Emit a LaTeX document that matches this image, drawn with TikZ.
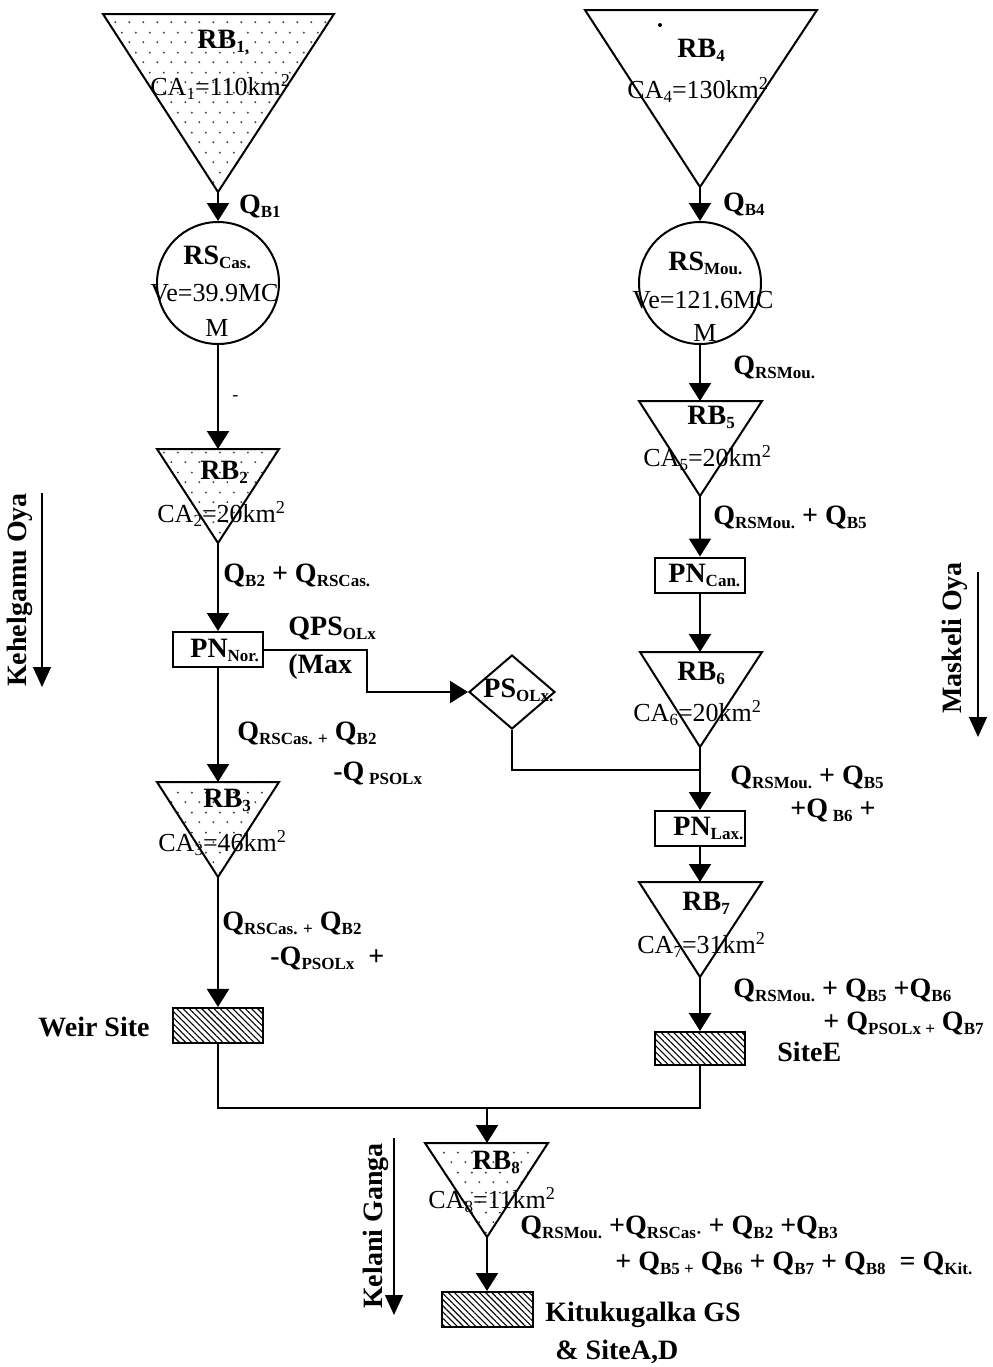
\documentclass[tikz,border=0pt]{standalone}
\usepackage{fontspec}
\setmainfont{Liberation Serif}
\usetikzlibrary{arrows.meta,patterns,patterns.meta,shapes.geometric}
\pgfdeclarepatternformonly{sparse dots}{\pgfpointorigin}{\pgfpoint{7pt}{10pt}}{\pgfpoint{7pt}{10pt}}{%
	\pgfpathcircle{\pgfpoint{1.75pt}{2.5pt}}{0.55pt}%
	\pgfpathcircle{\pgfpoint{5.25pt}{7.5pt}}{0.55pt}%
	\pgfusepath{fill}%
}
\newcommand{\sbx}[1]{\raisebox{-2pt}{\fontsize{8.5}{9}\selectfont #1}}
\newcommand{\spx}[1]{\textsuperscript{#1}}
\tikzset{
	flow/.style={line width=1pt, -{Triangle[length=9pt,width=11pt]}},
	link/.style={line width=1pt},
	basin/.style={line width=1pt, line join=miter},
	dotbasin/.style={basin, pattern=sparse dots, pattern color=black!75},
	site/.style={draw, line width=1pt, minimum width=45pt, minimum height=17.5pt, inner sep=0pt, pattern={Lines[angle=-45,distance=2.2pt,line width=0.55pt]}},
	pn/.style={draw, line width=1pt, minimum width=45pt, minimum height=17.5pt, inner sep=0pt},
	res/.style={draw, circle, line width=1pt, minimum size=61pt, inner sep=0pt},
	ps/.style={draw, diamond, line width=1pt, minimum width=43pt, minimum height=37pt, inner sep=0pt},
	txt/.style={font=\fontsize{13}{15}\selectfont, inner sep=0pt, anchor=west},
	lbl/.style={font=\bfseries\fontsize{14}{16}\selectfont, inner sep=0pt, anchor=west},
	river/.style={line width=0.6pt, -{Triangle[length=10pt,width=9pt]}},
}
\begin{document}
\begin{tikzpicture}[x=0.5pt,y=-0.5pt]
	\pgfmathsetmacro{\xl}{218}
	\pgfmathsetmacro{\xr}{700}
	\useasboundingbox (0,0) rectangle (992,1367);
	% Kehelgamu Oya branch
	\draw[dotbasin] (103,14) -- (334,14) -- (\xl,192) coordinate (rb1tip) -- cycle;
	\coordinate (rb1top) at (\xl,14);
	\node[lbl] (rb1name) at (197,43) {RB\sbx{1,}};
	\node[txt] (rb1area) at (150,87) {CA\sbx{1}=110km\spx{2}};
	\node[res] (cas) at (\xl,283) {};
	\node[lbl] (cas1) at (183,257) {RS\sbx{Cas.}};
	\node[txt] (cas2) at (150,293) {Ve=39.9MC};
	\node[txt, anchor=center] (cas3) at (217,328) {M};
	\draw[flow] (rb1tip) -- (cas.north) node[lbl, midway, xshift=10pt] (qb1) {Q\sbx{B1}};
	\draw[dotbasin] (157,449) -- (279,449) -- (\xl,543) coordinate (rb2tip) -- cycle;
	\coordinate (rb2top) at (\xl,449);
	\node[lbl] (rb2name) at (200,472) {RB\sbx{2}};
	\node[txt] (rb2area) at (157,514) {CA\sbx{2}=20km\spx{2}};
	\draw[flow] (cas.south) -- (rb2top);
	\node[txt, font=\fontsize{9}{9}\selectfont] (cut) at (232,398) {-};
	\node[pn] (nor) at (\xl,649.5) {};
	\node[lbl] (norname) at (190,650) {PN\sbx{Nor.}};
	\draw[flow] (rb2tip) -- (nor.north);
	\node[lbl] (q2) at (223,575) {Q\sbx{B2} + Q\sbx{RSCas.}};
	\node[ps] (olx) at (512,692) {};
	\node[lbl] (olxname) at (483,690) {PS\sbx{OLx.}};
	\draw[flow] (nor.east) -- ++(103,0) |- (olx.west);
	\node[lbl] (qps1) at (288,628) {QPS\sbx{OLx}};
	\node[lbl] (qps2) at (288,667) {(Max};
	\draw[dotbasin] (157,782) -- (279,782) -- (\xl,877) coordinate (rb3tip) -- cycle;
	\coordinate (rb3top) at (\xl,782);
	\node[lbl] (rb3name) at (203,800) {RB\sbx{3}};
	\node[txt] (rb3area) at (158,843) {CA\sbx{3}=46km\spx{2}};
	\draw[flow] (nor.south) -- (rb3top);
	\node[lbl] (q3a) at (237,733) {Q\sbx{RSCas. +} Q\sbx{B2}};
	\node[lbl] (q3b) at (333,773) {-Q\,\sbx{PSOLx}};
	\node[site] (weir) at (\xl,1025) {};
	\node[lbl, anchor=east] (weirname) at (150,1027) {Weir Site};
	\draw[flow] (rb3tip) -- (weir.north);
	\node[lbl] (q4a) at (222,923) {Q\sbx{RSCas. +} Q\sbx{B2}};
	\node[lbl] (q4b) at (270,958) {-Q\sbx{PSOLx}\ \ +};
	\node[lbl, anchor=center, rotate=90] (kehel) at (20,590) {Kehelgamu Oya};
	\coordinate (kehtop) at (42,493);
	\coordinate (kehend) at (42,687);
	\draw[river] (kehtop) -- (kehend);
	% Maskeli Oya branch
	\draw[basin] (585,10) -- (817,10) -- (\xr,187) coordinate (rb4tip) -- cycle;
	\fill (660,25) circle (1pt);
	\node[lbl] (rb4name) at (677,50) {RB\sbx{4}};
	\node[txt] (rb4area) at (627,90) {CA\sbx{4}=130km\spx{2}};
	\node[res] (mou) at (\xr,283) {};
	\node[lbl] (mou1) at (668,263) {RS\sbx{Mou.}};
	\node[txt] (mou2) at (632,300) {Ve=121.6MC};
	\node[txt, anchor=center] (mou3) at (705,333) {M};
	\draw[flow] (rb4tip) -- (mou.north) node[lbl, midway, xshift=11pt] (qb4) {Q\sbx{B4}};
	\draw[basin] (639,401) -- (762,401) -- (\xr,496) coordinate (rb5tip) -- cycle;
	\coordinate (rb5top) at (\xr,401);
	\node[lbl] (rb5name) at (687,417) {RB\sbx{5}};
	\node[txt] (rb5area) at (643,458) {CA\sbx{5}=20km\spx{2}};
	\draw[flow] (mou.south) -- (rb5top);
	\node[lbl] (q5) at (733,367) {Q\sbx{RSMou.}};
	\node[pn] (can) at (\xr,575) {};
	\node[lbl] (canname) at (668,575) {PN\sbx{Can.}};
	\draw[flow] (rb5tip) -- (can.north);
	\node[lbl] (q6) at (713,517) {Q\sbx{RSMou.} + Q\sbx{B5}};
	\draw[basin] (640,652) -- (762,652) -- (\xr,747) coordinate (rb6tip) -- cycle;
	\coordinate (rb6top) at (\xr,652);
	\node[lbl] (rb6name) at (677,673) {RB\sbx{6}};
	\node[txt] (rb6area) at (633,713) {CA\sbx{6}=20km\spx{2}};
	\draw[flow] (can.south) -- (rb6top);
	\node[pn] (lax) at (\xr,828.5) {};
	\node[lbl] (laxname) at (673,828) {PN\sbx{Lax.}};
	\draw[flow] (rb6tip) -- (lax.north);
	\coordinate (olxin) at (\xr,770);
	\draw[link] (olx.south) |- (olxin);
	\node[lbl] (q7a) at (730,777) {Q\sbx{RSMou.} + Q\sbx{B5}};
	\node[lbl] (q7b) at (790,810) {+Q\,\sbx{B6} +};
	\draw[basin] (639,882) -- (762,882) -- (\xr,977) coordinate (rb7tip) -- cycle;
	\coordinate (rb7top) at (\xr,882);
	\node[lbl] (rb7name) at (682,903) {RB\sbx{7}};
	\node[txt] (rb7area) at (637,945) {CA\sbx{7}=31km\spx{2}};
	\draw[flow] (lax.south) -- (rb7top);
	\node[site, minimum height=16.5pt] (sitee) at (\xr,1048.5) {};
	\node[lbl] (siteename) at (777,1052) {SiteE};
	\draw[flow] (rb7tip) -- (sitee.north);
	\node[lbl] (q8a) at (733,990) {Q\sbx{RSMou.} + Q\sbx{B5} +Q\sbx{B6}};
	\node[lbl] (q8b) at (823,1023) {+ Q\sbx{PSOLx +} Q\sbx{B7}};
	\node[lbl, anchor=center, rotate=90] (maskeli) at (955,638) {Maskeli Oya};
	\coordinate (masktop) at (978,572);
	\coordinate (maskend) at (978,737);
	\draw[river] (masktop) -- (maskend);
	% Kelani Ganga
	\coordinate (join) at (487,1108);
	\draw[link] (weir.south) |- (join) -| (sitee.south);
	\draw[dotbasin] (425,1143) -- (548,1143) -- (487,1237) coordinate (rb8tip) -- cycle;
	\coordinate (rb8top) at (487,1143);
	\node[lbl] (rb8name) at (472,1162) {RB\sbx{8}};
	\node[txt] (rb8area) at (428,1200) {CA\sbx{8}=11km\spx{2}};
	\draw[flow] (join) -- (rb8top);
	\node[site, minimum width=45.5pt] (kit) at (487,1309.5) {};
	\draw[flow] (rb8tip) -- (kit.north);
	\node[lbl] (kit1) at (545,1315) {Kitukugalka GS};
	\node[lbl] (kit2) at (555,1352) {\& SiteA,D};
	\node[lbl] (qkit1) at (520,1227) {Q\sbx{RSMou.} +Q\sbx{RSCas·} + Q\sbx{B2} +Q\sbx{B3}};
	\node[lbl] (qkit2) at (615,1263) {+ Q\sbx{B5 +} Q\sbx{B6} + Q\sbx{B7} + Q\sbx{B8}\ \ = Q\sbx{Kit.}};
	\node[lbl, anchor=center, rotate=90] (kelani) at (376,1226) {Kelani Ganga};
	\coordinate (keltop) at (394,1138);
	\coordinate (kelend) at (394,1315);
	\draw[river] (keltop) -- (kelend);
\end{tikzpicture}
\end{document}
